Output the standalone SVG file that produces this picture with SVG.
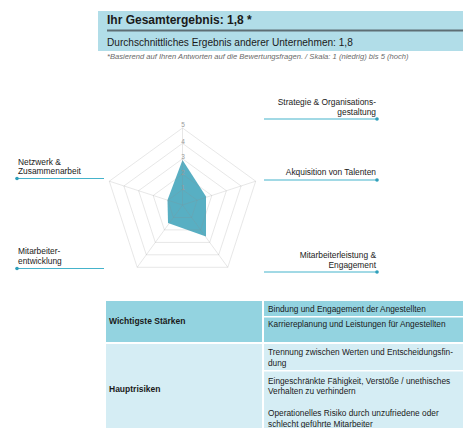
<svg xmlns="http://www.w3.org/2000/svg" width="463" height="428" viewBox="0 0 463 428">
<style>
text{font-family:"Liberation Sans",Arial,sans-serif;fill:#1a1a1a}
.lbl{font-size:8.4px}
.lblr{font-size:8.4px;text-anchor:end}
.ax{font-size:6.5px;fill:#9a9a9a;text-anchor:middle}
.ring{fill:none;stroke:#8c8c8c;stroke-opacity:0.35;stroke-width:0.6}
.lead{stroke:#45b3cb;stroke-width:1}
.dot{fill:#2e9fba}
.cell{font-size:8.3px}
.bold{font-size:8.5px;font-weight:bold}
</style>
<rect width="463" height="428" fill="#ffffff"/>
<g id="header">
<rect x="98" y="11" width="365" height="40" fill="#b1dde8"/>
<rect x="107" y="29.5" width="356" height="2" fill="#5e6e74"/>
<text x="107" y="24" style="font-size:12px;font-weight:bold">Ihr Gesamtergebnis: 1,8 *</text>
<text x="107" y="45.5" style="font-size:10.1px">Durchschnittliches Ergebnis anderer Unternehmen: 1,8</text>
<text x="107" y="58.5" style="font-size:7.6px;font-style:italic;fill:#6a6a6a">*Basierend auf Ihren Antworten auf die Bewertungsfragen. / Skala: 1 (niedrig) bis 5 (hoch)</text>
</g>
<g id="radar">
<polygon points="182.5,160 206,196.5 206,236.5 168,223 167.5,200" fill="#58afc3"/>
<polygon class="ring" points="182.5,128 255.7,181.2 227.8,267.3 137.2,267.3 109.3,181.2"/>
<polygon class="ring" points="182.5,143.4 241.1,186 218.7,254.8 146.3,254.8 123.9,186"/>
<polygon class="ring" points="182.5,158.8 226.4,190.7 209.7,242.4 155.3,242.4 138.6,190.7"/>
<polygon class="ring" points="182.5,174.2 211.8,195.5 200.6,229.9 164.4,229.9 153.2,195.5"/>
<polygon class="ring" points="182.5,189.6 197.1,200.2 191.6,217.5 173.4,217.5 167.9,200.2"/>
<path class="ring" d="M182.5,205L182.5,128M182.5,205L255.7,181.2M182.5,205L227.8,267.3M182.5,205L137.2,267.3M182.5,205L109.3,181.2"/>
<text class="ax" x="183" y="190">1</text>
<text class="ax" x="183" y="174.5">2</text>
<text class="ax" x="183" y="159">3</text>
<text class="ax" x="183" y="143.5">4</text>
<text class="ax" x="183" y="127">5</text>
</g>
<g id="connectors">
<line class="lead" x1="264" y1="119" x2="377" y2="119"/><circle class="dot" cx="377" cy="119" r="1.8"/>
<line class="lead" x1="264" y1="180" x2="377" y2="180"/><circle class="dot" cx="377" cy="180" r="1.8"/>
<line class="lead" x1="264" y1="272" x2="377" y2="272"/><circle class="dot" cx="377" cy="272" r="1.8"/>
<line class="lead" x1="17" y1="178.5" x2="104" y2="178.5"/><circle class="dot" cx="17" cy="178.5" r="1.8"/>
<line class="lead" x1="17" y1="268.5" x2="104" y2="268.5"/><circle class="dot" cx="17" cy="268.5" r="1.8"/>
</g>
<g id="label-strategie"><text class="lblr" x="376" y="104.5">Strategie &amp; Organisations-</text><text class="lblr" x="376" y="114.5">gestaltung</text></g>
<g id="label-akquisition"><text class="lblr" x="376" y="175">Akquisition von Talenten</text></g>
<g id="label-leistung"><text class="lblr" x="376" y="258">Mitarbeiterleistung &amp;</text><text class="lblr" x="376" y="268">Engagement</text></g>
<g id="label-netzwerk"><text class="lbl" x="18" y="164.5">Netzwerk &amp;</text><text class="lbl" x="18" y="174">Zusammenarbeit</text></g>
<g id="label-entwicklung"><text class="lbl" x="18" y="253.5">Mitarbeiter-</text><text class="lbl" x="18" y="263.5">entwicklung</text></g>
<g id="table">
<rect x="106" y="301" width="357" height="41" fill="#93d3e0"/>
<rect x="106" y="344" width="357" height="84" fill="#d5edf4"/>
<rect x="262" y="301" width="2" height="127" fill="#ffffff"/>
<rect x="264" y="316" width="199" height="1.5" fill="#ffffff"/>
<rect x="264" y="370" width="199" height="1.5" fill="#ffffff"/>
<text class="bold" x="109" y="323.5">Wichtigste Stärken</text>
<text class="bold" x="109" y="392">Hauptrisiken</text>
<text class="cell" x="268" y="312">Bindung und Engagement der Angestellten</text>
<text class="cell" x="268" y="327">Karriereplanung und Leistungen für Angestellten</text>
<text class="cell" x="268" y="355">Trennung zwischen Werten und Entscheidungsfin-</text>
<text class="cell" x="268" y="366">dung</text>
<text class="cell" x="268" y="383.5">Eingeschränkte Fähigkeit, Verstöße / unethisches</text>
<text class="cell" x="268" y="394">Verhalten zu verhindern</text>
<text class="cell" x="268" y="416">Operationelles Risiko durch unzufriedene oder</text>
<text class="cell" x="268" y="427">schlecht geführte Mitarbeiter</text>
</g>
</svg>
